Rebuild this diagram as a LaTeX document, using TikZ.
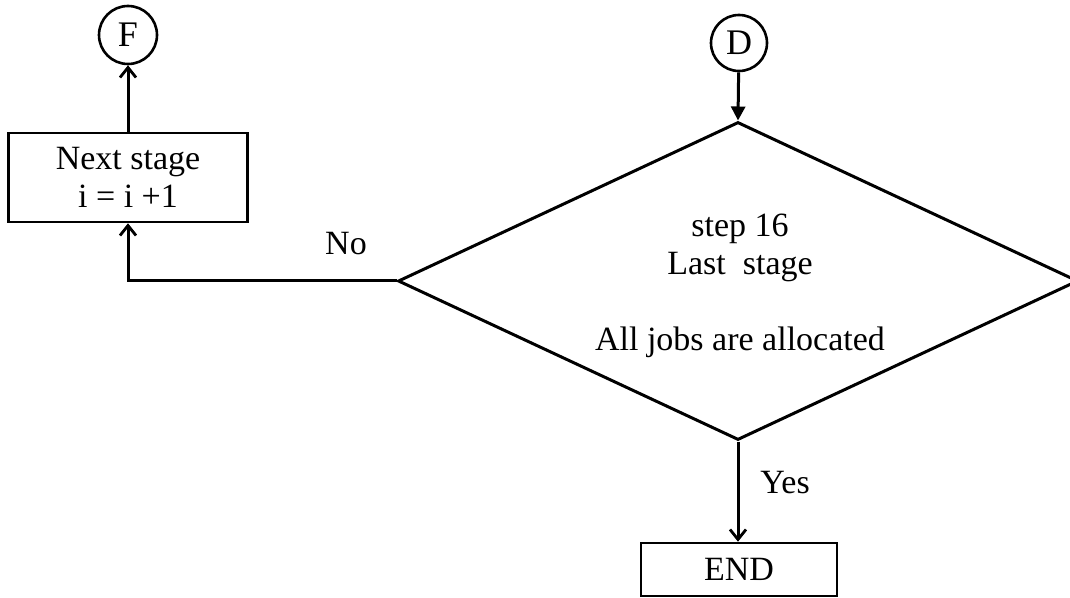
\documentclass[tikz,border=0pt]{standalone}
\usepackage{fontspec}
\setmainfont{Liberation Serif}
\usetikzlibrary{shapes.geometric,arrows.meta}
\begin{document}
\begin{tikzpicture}[x=0.5pt,y=-0.5pt,
  every node/.style={font=\fontsize{17}{19}\selectfont},
  flow/.style={line width=1.5pt},
  arr/.style={flow,-{Straight Barb[length=5pt,width=8pt,line width=1.4pt]}},
  farr/.style={flow,-{Triangle[length=7pt,width=7pt]}},
  conn/.style={circle,draw,line width=1.3pt,inner sep=0pt,font=\fontsize{18}{20}\selectfont},
  procbox/.style={rectangle,draw,line width=1.3pt,inner sep=0pt,align=center},
  decision/.style={diamond,draw,line width=1.5pt,inner sep=0pt},
  lbl/.style={anchor=base,inner sep=0pt}]
\useasboundingbox (0,0) rectangle (1070,598);

% connectors
\node[conn,minimum size=29pt] (F) at (128,35) {F};
\node[conn,minimum size=28pt] (D) at (739,43) {D};

% process boxes
\node[procbox,minimum width=119.5pt,minimum height=44.5pt] (nb) at (128,177.5)
  {Next stage\\ i = i +1};
\node[procbox,minimum width=98pt,minimum height=26.5pt] (end) at (739,569.5) {END};

% decision
\node[decision,minimum width=340pt,minimum height=159pt] (dec) at (738,281) {};
\node[align=center,inner sep=0pt] (cond) at (740,286)
  {step 16\\ Last\ \ stage\\[19pt] All jobs are allocated};

% flow lines
\draw[farr] (D) -- (dec.north);
\draw[arr] (nb) -- (F);
\draw[arr] (dec.west) -| (nb.south);
\draw[arr] (dec.south) -- (dec.south |- end.north);

% branch labels
\node[lbl] (lblno) at (346,255) {No};
\node[lbl] (lblyes) at (785,493) {Yes};
\end{tikzpicture}
\end{document}
